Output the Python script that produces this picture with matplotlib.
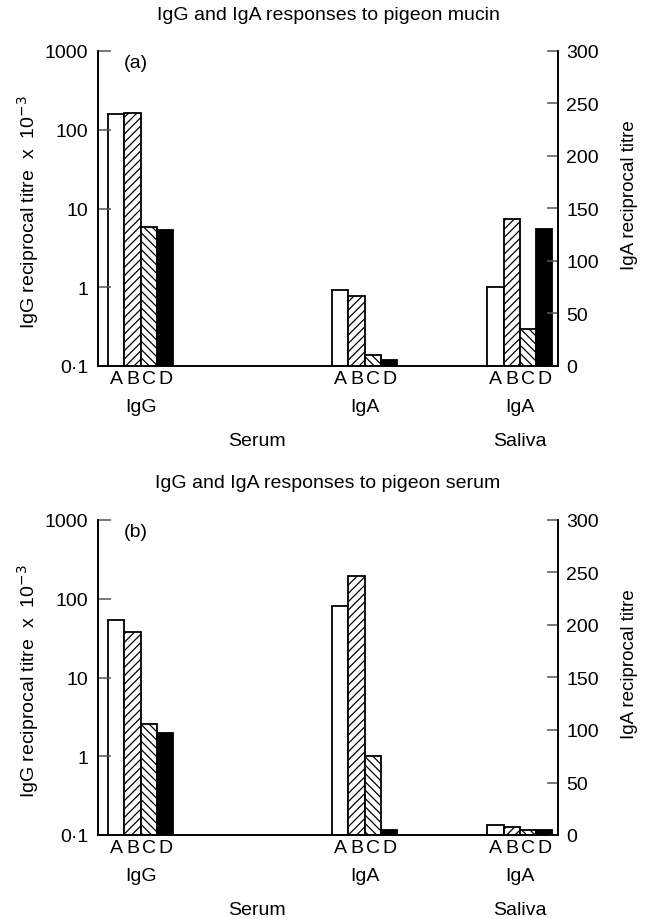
import matplotlib
matplotlib.use('Agg')
import matplotlib.pyplot as plt
from matplotlib.ticker import FixedLocator, FixedFormatter

plt.rcParams['font.family'] = ['Liberation Sans', 'DejaVu Sans']
plt.rcParams['hatch.linewidth'] = 0.9

# data
bar_labels = ['A', 'B', 'C', 'D']
group_labels = ['IgG', 'IgA', 'IgA']
source_labels = ['Serum', 'Saliva']
titles = ['IgG and IgA responses to pigeon mucin',
          'IgG and IgA responses to pigeon serum']
panel_tags = ['(a)', '(b)']

# IgG (x 10^-3, log axis) for serum
mucin_serum_igg = [158, 163, 5.8, 5.3]
pigeon_serum_igg = [53, 38, 2.6, 1.95]
# IgA reciprocal titre (linear axis): serum, saliva
mucin_serum_iga = [72, 67, 10, 5.7]
mucin_saliva_iga = [75, 140, 35, 130]
pigeon_serum_iga = [218, 247, 75, 5]
pigeon_saliva_iga = [9.6, 7.7, 4.6, 5]

log_ticks = [0.1, 1, 10, 100, 1000]
log_ticklabels = ['0·1', '1', '10', '100', '1000']
lin_ticks = [0, 50, 100, 150, 200, 250, 300]

# bar styles: A open, B forward hatch, C back hatch, D solid
faces = ['white', 'white', 'white', 'black']
hatches = [None, '////', '\\\\\\\\', None]

group_centres = [2.62, 16.4, 25.95]
offsets = [-1.5, -0.5, 0.5, 1.5]

FS = 14  # main text size
fig = plt.figure(figsize=(6.54, 9.2), dpi=100)
W, H = 654, 920


def draw_bars(axis, centre, values):
    for i, v in enumerate(values):
        axis.bar(centre + offsets[i], v, width=1.0, color=faces[i],
                 edgecolor='black', hatch=hatches[i], linewidth=1.3)


def panel(top_px, igg, serum_iga, saliva_iga, title, tag):
    left, right, bottom = 98, 558, top_px + 315
    ax = fig.add_axes([left / W, 1 - bottom / H, (right - left) / W, 315 / H])
    ax.set_yscale('log')
    ax.set_ylim(0.1, 1000)
    ax.set_xlim(0, 28.3)
    ax2 = ax.twinx()
    ax2.set_ylim(0, 300)

    draw_bars(ax, group_centres[0], igg)
    draw_bars(ax2, group_centres[1], serum_iga)
    draw_bars(ax2, group_centres[2], saliva_iga)

    ax.yaxis.set_major_locator(FixedLocator(log_ticks))
    ax.yaxis.set_major_formatter(FixedFormatter(log_ticklabels))
    ax.yaxis.set_minor_locator(FixedLocator([]))
    ax2.set_yticks(lin_ticks)

    xt = [c + o for c in group_centres for o in offsets]
    ax.set_xticks(xt)
    ax.set_xticklabels(bar_labels * 3)
    ax.tick_params(axis='x', length=0, pad=3, labelsize=FS)
    ax.tick_params(axis='y', direction='in', length=9, width=1.1,
                   color='#555555', pad=7, labelsize=FS)
    ax2.tick_params(axis='y', direction='in', length=8, width=1.1,
                    color='#555555', pad=6, labelsize=FS)

    for a in (ax, ax2):
        a.spines['top'].set_visible(False)
        for s in ('left', 'right', 'bottom'):
            a.spines[s].set_linewidth(1.2)

    ax.set_ylabel('IgG reciprocal titre  x  10$^{-3}$', fontsize=14)
    ax.yaxis.set_label_coords(-0.124, 0.49)
    ax2.set_ylabel('IgA reciprocal titre', fontsize=13.5)
    ax2.yaxis.set_label_coords(1.138, 0.546)

    tr = ax.get_xaxis_transform()
    for c, lab in zip(group_centres, group_labels):
        ax.text(c, -0.13, lab, transform=tr, ha='center', va='center',
                fontsize=FS)
    ax.text(0.3457, -0.235, source_labels[0], transform=ax.transAxes,
            ha='center', va='center', fontsize=FS)
    ax.text(group_centres[2], -0.235, source_labels[1], transform=tr,
            ha='center', va='center', fontsize=FS)

    ax.text(0.055, 0.965, tag, transform=ax.transAxes, ha='left',
            va='center', fontsize=FS)
    fig.text(328 / W, 1 - (top_px - 37) / H, title, ha='center',
             va='center', fontsize=FS)


panel(52, mucin_serum_igg, mucin_serum_iga, mucin_saliva_iga,
      titles[0], panel_tags[0])
panel(521, pigeon_serum_igg, pigeon_serum_iga, pigeon_saliva_iga,
      titles[1], panel_tags[1])

fig.savefig('out.png', dpi=100)
